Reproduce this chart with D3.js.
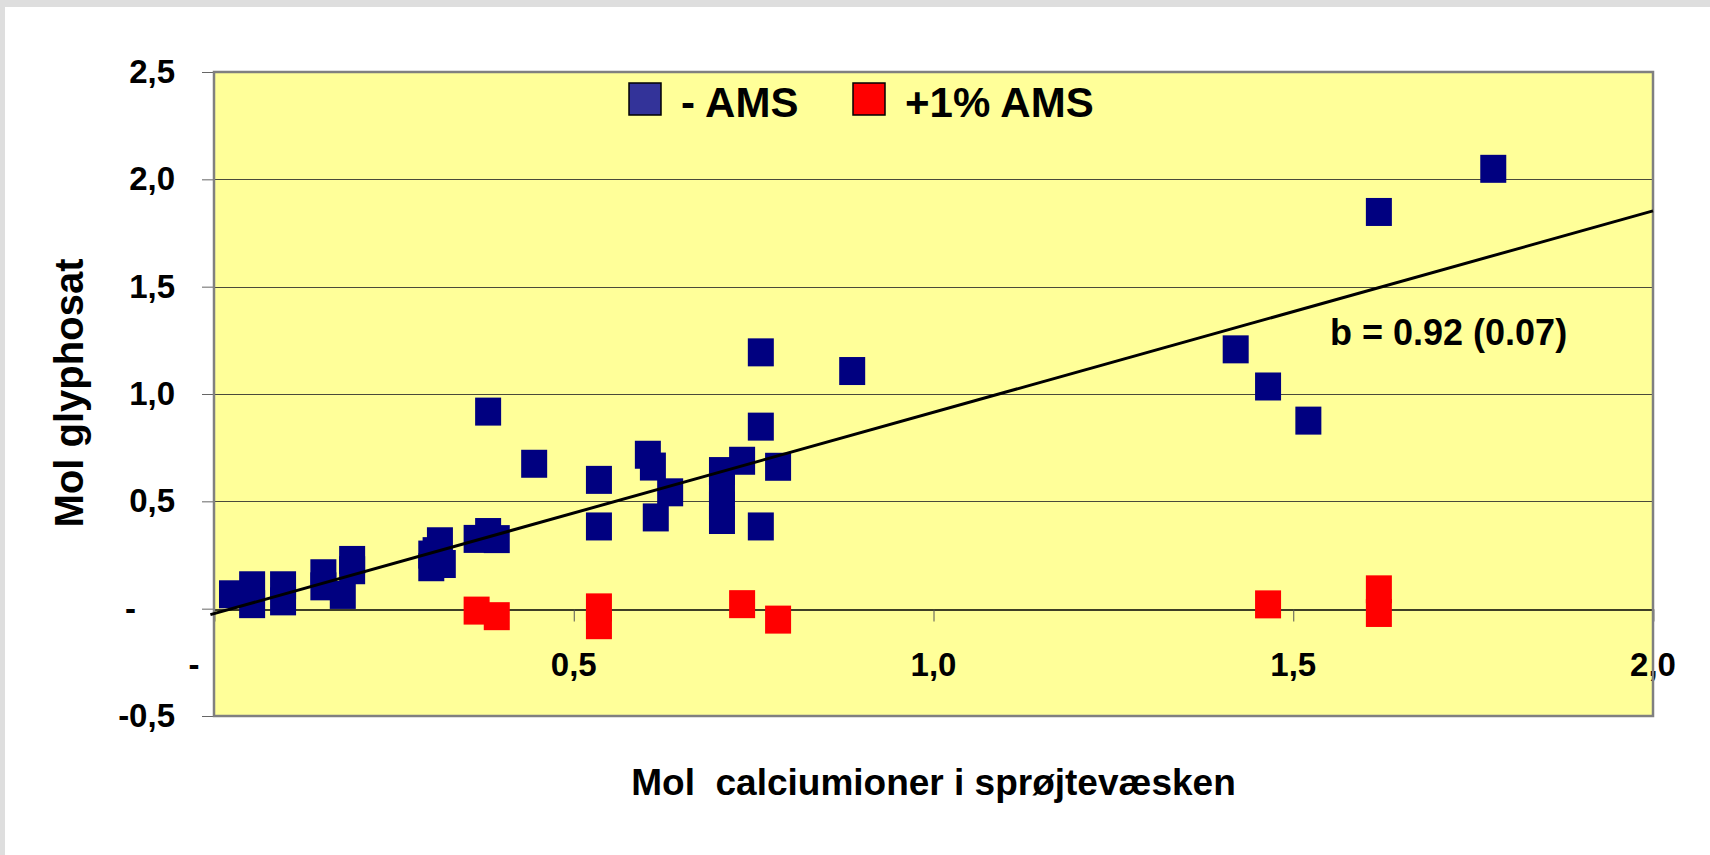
<!DOCTYPE html>
<html>
<head>
<meta charset="utf-8">
<script src="https://cdn.jsdelivr.net/npm/d3@7"></script>
<style>
  body { margin: 0; background: #fff; }
  svg text { font-family: "Liberation Sans", Arial, sans-serif; font-weight: bold; fill: #000; }
</style>
</head>
<body>
<svg width="1710" height="855"></svg>
<script>
// - AMS (x = mol calcium, y = mol glyphosat)
var noAmsCa  = [0.025, 0.053, 0.053, 0.096, 0.096, 0.152, 0.152, 0.179, 0.192, 0.192,
                0.302, 0.302, 0.308, 0.314, 0.318, 0.365, 0.381, 0.393, 0.381, 0.445,
                0.535, 0.535, 0.603, 0.610, 0.634, 0.614, 0.706, 0.706, 0.706, 0.706,
                0.734, 0.760, 0.760, 0.760, 0.784, 0.887, 1.420, 1.465, 1.521, 1.619, 1.778];
var noAmsGly = [0.067, 0.109, 0.021, 0.109, 0.034, 0.165, 0.104, 0.064, 0.227, 0.179,
                0.252, 0.193, 0.268, 0.314, 0.208, 0.325, 0.357, 0.324, 0.918, 0.675,
                0.600, 0.383, 0.717, 0.662, 0.542, 0.425, 0.641, 0.560, 0.480, 0.413,
                0.689, 1.194, 0.848, 0.383, 0.661, 1.107, 1.208, 1.035, 0.876, 1.848, 2.049];

// +1% AMS
var amsCa  = [0.365, 0.393, 0.535, 0.535, 0.734, 0.784, 1.465, 1.619, 1.619];
var amsGly = [-0.009, -0.035, 0.006, -0.077, 0.021, -0.051, 0.020, 0.090, -0.020];

// regression line end points
var trendCa  = [-0.005, 2.0];
var trendGly = [-0.028, 1.853];

var xTicks = [0, 0.5, 1.0, 1.5, 2.0];
var yTicks = [-0.5, 0, 0.5, 1.0, 1.5, 2.0, 2.5];
var seriesNames = ["- AMS", "+1% AMS"];
var seriesColors = ["#000080", "#ff0000"];
var legendColors = ["#333399", "#ff0000"];

var svg = d3.select("svg"),
  width = +svg.attr("width"),
  height = +svg.attr("height");

var plotLeft = 214, plotRight = 1653, plotTop = 72, plotBottom = 716;

var x = d3.scaleLinear().domain([0, 2]).range([plotLeft, plotRight]);
var y = d3.scaleLinear().domain([-0.5, 2.5]).range([plotBottom, plotTop]);

// Danish style labels: comma decimals, plain hyphen, "-" for zero
function comma(d) {
  if (d === 0) return "-";
  return (d < 0 ? "-" : "") + Math.abs(d).toFixed(1).replace(".", ",");
}

// page frame
svg.append("rect").attr("width", width).attr("height", height).attr("fill", "#dedede");
svg.append("rect").attr("x", 5).attr("y", 7).attr("width", width - 5).attr("height", height - 7).attr("fill", "#fff");

// plot area
svg.append("rect")
  .attr("x", plotLeft).attr("y", plotTop)
  .attr("width", plotRight - plotLeft).attr("height", plotBottom - plotTop)
  .attr("fill", "#ffff99");

// grid lines
svg.append("g")
  .selectAll("line")
  .data(yTicks.filter(d => d > -0.5 && d < 2.5 && d !== 0))
  .enter()
  .append("line")
  .attr("x1", plotLeft).attr("x2", plotRight)
  .attr("y1", d => Math.round(y(d)) + 0.5).attr("y2", d => Math.round(y(d)) + 0.5)
  .attr("stroke", "#4a4a3a")
  .attr("stroke-width", 1.2);

// y axis
var yAxis = svg.append("g")
  .attr("transform", `translate(${plotLeft},0)`)
  .call(d3.axisLeft(y).tickValues(yTicks).tickSize(12).tickPadding(27).tickFormat(comma));
yAxis.select(".domain").remove();
yAxis.selectAll(".tick line").attr("stroke", "#666");
yAxis.selectAll("text")
  .attr("font-size", 33)
  .attr("fill", "#000")
  .attr("dx", d => d === 0 ? -39 : 0);

// x axis drawn along y = 0
var xAxis = svg.append("g")
  .attr("transform", `translate(0,${Math.round(y(0)) + 0.5})`)
  .call(d3.axisBottom(x).tickValues(xTicks).tickSize(12).tickFormat(""));
xAxis.select(".domain").attr("stroke", "#000").attr("stroke-width", 1.5);
xAxis.selectAll(".tick line").attr("stroke", "#555");

svg.append("g")
  .selectAll("text")
  .data(xTicks)
  .enter()
  .append("text")
  .attr("x", d => d === 0 ? x(d) - 20 : x(d))
  .attr("y", 676)
  .attr("text-anchor", "middle")
  .attr("font-size", 33)
  .text(comma);

// plot border
svg.append("rect")
  .attr("x", plotLeft).attr("y", plotTop)
  .attr("width", plotRight - plotLeft).attr("height", plotBottom - plotTop)
  .attr("fill", "none")
  .attr("stroke", "#808080")
  .attr("stroke-width", 2.5);

// markers
var markW = 26, markH = 28;
function drawSeries(cas, glys, color) {
  svg.append("g")
    .selectAll("rect")
    .data(d3.zip(cas, glys))
    .enter()
    .append("rect")
    .attr("x", d => x(d[0]) - markW / 2)
    .attr("y", d => y(d[1]) - markH / 2)
    .attr("width", markW)
    .attr("height", markH)
    .attr("fill", color);
}
drawSeries(noAmsCa, noAmsGly, seriesColors[0]);
drawSeries(amsCa, amsGly, seriesColors[1]);

// regression line
svg.append("path")
  .datum(d3.zip(trendCa, trendGly))
  .attr("d", d3.line().x(d => x(d[0])).y(d => y(d[1])))
  .attr("stroke", "#000")
  .attr("stroke-width", 3)
  .attr("fill", "none");

svg.append("text")
  .attr("x", 1330)
  .attr("y", 345)
  .attr("font-size", 36)
  .text("b = 0.92 (0.07)");

// legend
var legendX = [629, 853];
var legend = svg.append("g");
legend.selectAll("rect")
  .data(seriesNames)
  .enter()
  .append("rect")
  .attr("x", (d, i) => legendX[i])
  .attr("y", 83)
  .attr("width", 32)
  .attr("height", 32)
  .attr("fill", (d, i) => legendColors[i])
  .attr("stroke", "#000")
  .attr("stroke-width", 1.5);
legend.selectAll("text")
  .data(seriesNames)
  .enter()
  .append("text")
  .attr("x", (d, i) => legendX[i] + 52)
  .attr("y", 117)
  .attr("font-size", 42)
  .text(d => d);

// axis titles
svg.append("text")
  .attr("x", (plotLeft + plotRight) / 2)
  .attr("y", 795)
  .attr("text-anchor", "middle")
  .attr("font-size", 37)
  .attr("xml:space", "preserve")
  .text("Mol  calciumioner i sprøjtevæsken");

svg.append("text")
  .attr("transform", "translate(83,393) rotate(-90)")
  .attr("text-anchor", "middle")
  .attr("font-size", 40)
  .text("Mol glyphosat");
</script>
</body>
</html>
